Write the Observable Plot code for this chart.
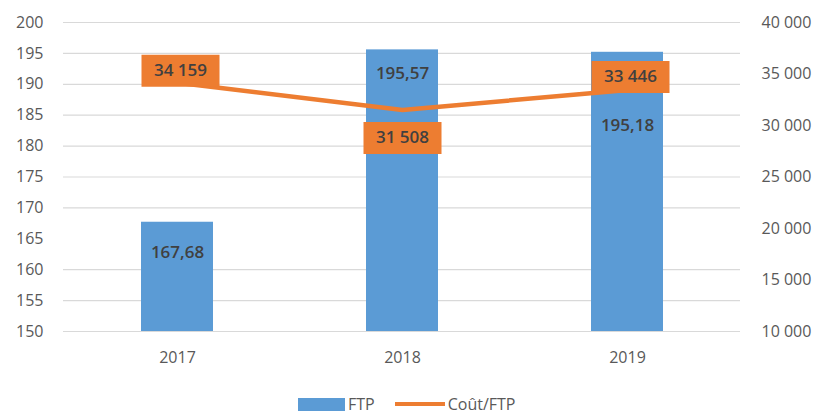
<!DOCTYPE html>
<html>
<head>
<meta charset="utf-8">
<script src="https://cdn.jsdelivr.net/npm/d3@7"></script>
<script src="https://cdn.jsdelivr.net/npm/@observablehq/plot@0.6"></script>
<style>
  html, body { margin: 0; padding: 0; background: #fff; }
  body { width: 820px; height: 414px; position: relative; overflow: hidden; font-family: "Open Sans", sans-serif; }
  #legend { position: absolute; left: 298px; top: 394px; display: flex; align-items: center; font-size: 16px; color: #595959; line-height: 20px; }
  #legend .sw-bar { width: 47px; height: 13px; background: #5b9bd5; margin-right: 3px; }
  #legend .sw-line { width: 50px; height: 4px; background: #ed7d31; margin-left: 20px; margin-right: 3px; }
</style>
</head>
<body>
<div id="chart"></div>
<div id="legend"><span class="sw-bar"></span><span>FTP</span><span class="sw-line"></span><span>Coût/FTP</span></div>
<script>
// ---- data ----
const years = ["2017", "2018", "2019"];
const ftp = [167.68, 195.57, 195.18];
const coutParFtp = [34159, 31508, 33446];
const leftTicks = [150, 155, 160, 165, 170, 175, 180, 185, 190, 195, 200];
const gridTicks = [150, 155, 160, 170, 175, 180, 185, 190, 195, 200];
const rightTicks = [10000, 15000, 20000, 25000, 30000, 35000, 40000];

// ---- layout constants ----
const barLabelDy = [30, 24, 73];
const lineLabelDy = [-12, 28, -13];
const lineLabelDx = [3, 0, 3];

const blue = "#5b9bd5", orange = "#ed7d31", textDark = "#404040", axisGray = "#595959";

const fr = d3.formatLocale({decimal: ",", thousands: " ", grouping: [3], currency: ["", " €"]});
const fmtInt = fr.format(",d");
const fmtDec = fr.format(",.2f");

// map right-axis values (10 000 – 40 000) onto left scale (150 – 200)
const toLeft = v => 150 + (v - 10000) * 50 / 30000;
const fromLeft = y => 10000 + (y - 150) * 30000 / 50;

const data = years.map((y, i) => ({year: y, ftp: ftp[i], cout: coutParFtp[i], i}));

const boxSymbol = {
  draw(ctx) { ctx.rect(-39, -16, 78, 32); }
};

const marks = [
  Plot.gridY(gridTicks, {stroke: "#d9d9d9", strokeOpacity: 1, strokeWidth: 1.2}),
  Plot.barY(data, {x: "year", y1: 150, y2: "ftp", fill: blue}),
  ...data.map((d, i) => Plot.text([d], {
    x: "year", y: "ftp", text: dd => fmtDec(dd.ftp), dy: barLabelDy[i],
    fill: textDark, fontSize: 17, fontWeight: 600
  })),
  Plot.line(data, {x: "year", y: d => toLeft(d.cout), stroke: orange, strokeWidth: 4.5, curve: "linear"}),
  ...data.map((d, i) => Plot.dot([d], {
    x: "year", y: dd => toLeft(dd.cout), symbol: boxSymbol, r: 5,
    fill: orange, stroke: "none", dy: lineLabelDy[i], dx: lineLabelDx[i]
  })),
  ...data.map((d, i) => Plot.text([d], {
    x: "year", y: dd => toLeft(dd.cout), text: dd => fmtInt(dd.cout),
    dy: lineLabelDy[i], dx: lineLabelDx[i],
    fill: textDark, fontSize: 17, fontWeight: 600
  })),
  Plot.axisY(leftTicks, {anchor: "left", tickSize: 0, tickPadding: 20, label: null,
    fontSize: 16, fill: axisGray, textAnchor: "end"}),
  Plot.axisY(rightTicks.map(toLeft), {anchor: "right", tickSize: 0, tickPadding: 21, label: null,
    tickFormat: y => fmtInt(Math.round(fromLeft(y))), fontSize: 16, fill: axisGray}),
  Plot.axisX({tickSize: 0, tickPadding: 20, label: null, fontSize: 16, fill: axisGray})
];

const chart = Plot.plot({
  width: 820,
  height: 392,
  marginLeft: 63,
  marginRight: 80,
  marginTop: 22,
  marginBottom: 61,
  style: {fontFamily: "'Open Sans', sans-serif", background: "#fff", overflow: "visible"},
  x: {domain: years, paddingInner: 0.68, paddingOuter: 0.34, label: null},
  y: {domain: [150, 200], label: null},
  marks
});
document.getElementById("chart").appendChild(chart);
</script>
</body>
</html>
